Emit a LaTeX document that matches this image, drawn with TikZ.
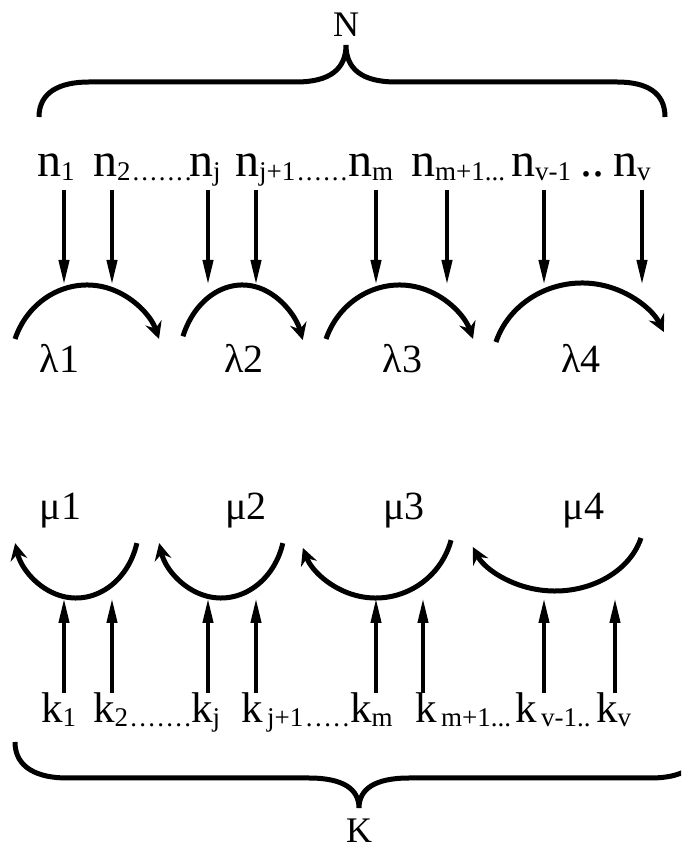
\documentclass[tikz,border=0pt]{standalone}
\usepackage{fontspec}
\setmainfont{Liberation Serif}
\usetikzlibrary{arrows.meta}
\newcommand\Nb[1]{{\fontsize{48}{48}\selectfont #1}}
\newcommand\Kb[1]{{\fontsize{43}{43}\selectfont #1}}
\newcommand\Sb[1]{\raisebox{-4pt}{\fontsize{27}{27}\selectfont #1}}
\newcommand\spdots[2]{\makebox[#1][s]{#2}}
\begin{document}
\begin{tikzpicture}[x=1pt,y=1pt,
  lab/.style={anchor=base west,inner sep=0pt},
  glab/.style={anchor=base,inner sep=0pt,font=\fontsize{40}{40}\selectfont},
  setlab/.style={anchor=base,inner sep=0pt,font=\fontsize{36}{36}\selectfont},
  arr/.style={line width=4pt,-{Triangle[length=25pt,width=10pt]}},
  bow/.style={line width=5pt,-{Stealth[length=17pt,width=17pt,inset=6pt]}},
  brace/.style={line width=5pt}]
\useasboundingbox (0,0) rectangle (681,854);
\clip (0,0) rectangle (681,854);

% set labels
\node[setlab] (N) at (346,817) {N};
\node[setlab] (K) at (359,12) {K};

% braces
\draw[brace] (39,737) .. controls (39,762) and (60,772) .. (89,772) -- (296,772)
  .. controls (330,772) and (346,785) .. (346,809)
  .. controls (346,785) and (362,772) .. (396,772) -- (617,772)
  .. controls (646,772) and (665,762) .. (665,737);
\draw[brace] (15,112) .. controls (15,86) and (38,76) .. (67,76) -- (309,76)
  .. controls (343,76) and (359,65) .. (359,46)
  .. controls (359,65) and (375,76) .. (409,76) -- (651,76)
  .. controls (680,76) and (703,86) .. (703,112);

% top labels
\node[lab] (n1) at (37,677) {\Nb{n}\Sb{1}};
\node[lab] (n2) at (93,677) {\Nb{n}\Sb{2\spdots{61pt}{\hfill.\hfill.\hfill.\hfill.\hfill.\hfill.\hfill.}}};
\node[lab] (nj) at (189,677) {\Nb{n}\Sb{j}};
\node[lab] (nj1) at (235,677) {\Nb{n}\Sb{j+1\spdots{52pt}{\hfill.\hfill.\hfill.\hfill.\hfill.\hfill.}}};
\node[lab] (nm) at (348,677) {\Nb{n}\Sb{m}};
\node[lab] (nm1) at (411,677) {\Nb{n}\Sb{m+1...}};
\node[lab] (nv1) at (511,677) {\Nb{n}\Sb{v-1}};
\node[lab] (ndd) at (580,677) {\Nb{..}};
\node[lab] (nv) at (613,677) {\Nb{n}\Sb{v}};

% bottom labels
\node[lab] (k1) at (41,131) {\Kb{k}\Sb{1}};
\node[lab] (k2) at (93,131) {\Kb{k}\Sb{2\spdots{63pt}{\hfill.\hfill.\hfill.\hfill.\hfill.\hfill.\hfill.}}};
\node[lab] (kj) at (191,131) {\Kb{k}\Sb{j}};
\node[lab] (kj1) at (241,131) {\Kb{k}\Sb{\,j+1\spdots{46pt}{\hfill.\hfill.\hfill.\hfill.\hfill.}}};
\node[lab] (km) at (350,131) {\Kb{k}\Sb{m}};
\node[lab] (km1) at (415,131) {\Kb{k}\Sb{\,m+1...}};
\node[lab] (kv1) at (515,131) {\Kb{k}\Sb{\,v-1..}};
\node[lab] (kv) at (596,131) {\Kb{k}\Sb{v}};

% greek labels
\node[glab] (l1) at (59.5,481) {λ1};
\node[glab] (l2) at (244,481) {λ2};
\node[glab] (l3) at (402.5,481) {λ3};
\node[glab] (l4) at (581,481) {λ4};
\node[glab] (m1) at (60.5,334) {μ1};
\node[glab] (m2) at (246,334) {μ2};
\node[glab] (m3) at (404,334) {μ3};
\node[glab] (m4) at (583.5,334) {μ4};

% top arrows
\foreach \i/\x in {1/64,2/112,3/208,4/256,5/376,6/447,7/544,8/642}{
  \coordinate (ts\i) at (\x,664);
  \coordinate (te\i) at (\x,569);
  \draw[arr] (ts\i) -- (te\i);
}
% bottom arrows
\foreach \i/\x in {1/64,2/112,3/208,4/256,5/376,6/423,7/544,8/615}{
  \coordinate (bs\i) at (\x,161);
  \coordinate (be\i) at (\x,256);
  \draw[arr] (bs\i) -- (be\i);
}

% lambda arcs
\draw[bow] ([shift={(87,487)}]160:76.6 and 82) arc[start angle=160,end angle=20,x radius=76.6,y radius=82];
\draw[bow] ([shift={(242.3,487)}]158:64 and 82) arc[start angle=158,end angle=19.2,x radius=64,y radius=82];
\draw[bow] ([shift={(399.5,487)}]160:78.2 and 82) arc[start angle=160,end angle=20,x radius=78.2,y radius=82];
\draw[bow] ([shift={(582,486)}]162.2:90.4 and 85) arc[start angle=162.2,end angle=25,x radius=90.4,y radius=85];

% mu arcs
\draw[bow] ([shift={(76,330)}]-15:63 and 74) arc[start angle=-15,end angle=-165,x radius=63,y radius=74];
\draw[bow] ([shift={(221,330)}]-15:64 and 74) arc[start angle=-15,end angle=-165,x radius=64,y radius=74];
\draw[bow] ([shift={(375.7,334)}]-15:78 and 78) arc[start angle=-15,end angle=-159,x radius=78,y radius=78];
\draw[bow] ([shift={(555,334.5)}]-15:89 and 71.5) arc[start angle=-15,end angle=-157.4,x radius=89,y radius=71.5];
\end{tikzpicture}
\end{document}
